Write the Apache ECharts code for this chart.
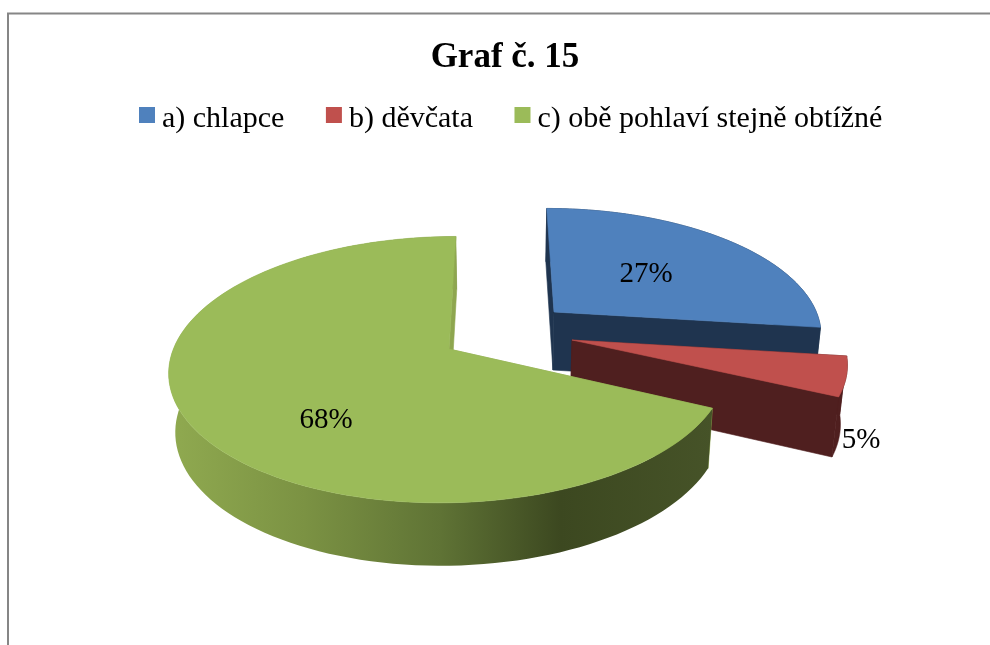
<!DOCTYPE html>
<html>
<head>
<meta charset="utf-8">
<style>html,body{margin:0;padding:0;background:#fff}#c{width:990px;height:645px}</style>
<script src="https://cdn.jsdelivr.net/npm/echarts@6/dist/echarts.min.js"></script>
</head>
<body>
<div id="c"></div>
<script>
const chartTitle = 'Graf č. 15';
const categories = ['a) chlapce', 'b) děvčata', 'c) obě pohlaví stejně obtížné'];
const values = [27, 5, 68];
const colors = ['#4f81bd', '#c0504d', '#9bbb59'];
const darkColors = ['#1f344f', '#4f1f1f', '#8ea64f'];

// 3D pie projection layout
const FONT = '"Liberation Serif","Times New Roman",serif';
const VANISH_X = 500, K = 0.155, RX = 277, RY = 130, DEPTH = 58;
const layout = [
  { ax: 554, ay: 312, r: 0.947, ry: 0.92, label: [646, 274] },
  { ax: 572, ay: 340, r: 0.975, ry: 0.96, label: [861, 440] },
  { ax: 449, ay: 349, r: 0.995, ry: 1, label: [326, 420] }
];
const total = values.reduce((a, b) => a + b, 0);

function project(l, u, v, low) {
  const den = 1 + K * v;
  let x = VANISH_X + (l.ax - VANISH_X + RX * l.r * u) / den;
  let y = l.ay - RY * l.ry * v / den;
  if (low) {
    x += (VANISH_X - x) * 0.02;
    y += DEPTH * (1 - 0.085 * v);
  }
  return [x, y];
}
function arc(l, a0, a1, low) {
  const pts = [], n = 120;
  for (let i = 0; i <= n; i++) {
    const t = a0 + (a1 - a0) * i / n;
    pts.push(project(l, Math.sin(t), Math.cos(t), low));
  }
  return pts;
}
function renderSlice(idx) {
  return function () {
    let before = 0;
    for (let i = 0; i < idx; i++) before += values[i];
    const a0 = before / total * 2 * Math.PI;
    const a1 = (before + values[idx]) / total * 2 * Math.PI;
    const l = layout[idx];
    const apexT = project(l, 0, 0, false), apexB = project(l, 0, 0, true);
    const arcT = arc(l, a0, a1, false), arcB = arc(l, a0, a1, true);
    const gradient = idx === 2;
    const wallFill = gradient ? {
      type: 'linear', x: 0, y: 0, x2: 1, y2: 0,
      colorStops: [
        { offset: 0, color: '#90aa50' },
        { offset: 0.25, color: '#7b9243' },
        { offset: 0.5, color: '#5f7335' },
        { offset: 0.72, color: '#3c4820' },
        { offset: 1, color: '#465328' }
      ]
    } : darkColors[idx];
    const poly = (points, fill, stroke) => ({
      type: 'polygon', shape: { points: points },
      style: { fill: fill, stroke: stroke || null, lineWidth: stroke ? 0.6 : 0 }, silent: true
    });
    const dark = darkColors[idx];
    const children = [
      poly([apexT, arcT[0], arcB[0], apexB], dark, dark),
      poly(arcT.concat(arcB.slice().reverse()), wallFill, gradient ? null : dark),
      poly([apexT, arcT[arcT.length - 1], arcB[arcB.length - 1], apexB], dark, dark),
      poly([apexT].concat(arcT), colors[idx], colors[idx]),
      {
        type: 'text', silent: true, z2: 50,
        style: {
          text: values[idx] + '%', x: l.label[0], y: l.label[1],
          align: 'center', verticalAlign: 'middle', fill: '#000', font: '29px ' + FONT
        }
      }
    ];
    return { type: 'group', children: children };
  };
}

const chart = echarts.init(document.getElementById('c'), null, { renderer: 'canvas' });
chart.setOption({
  animation: false,
  backgroundColor: '#fff',
  title: {
    text: chartTitle, left: 500, top: 35, textAlign: 'center',
    textStyle: { fontFamily: FONT, fontWeight: 'bold', fontSize: 35, color: '#000' }
  },
  legend: {
    data: categories, left: 134, top: 99, itemWidth: 16, itemHeight: 24, itemGap: 41.5,
    icon: 'path://M0 0h16v16h-16zM0 24h0.01', selectedMode: false,
    textStyle: { fontFamily: FONT, fontSize: 30, color: '#000', padding: [0, 0, 0, 2] }
  },
  graphic: [{
    type: 'polyline', silent: true,
    shape: { points: [[8, 645], [8, 13.5], [990, 13.5]] },
    style: { stroke: '#868686', lineWidth: 2, fill: null }
  }],
  series: categories.map((name, i) => ({
    type: 'custom', name: name, coordinateSystem: 'none', silent: true,
    itemStyle: { color: colors[i] },
    z: 2 + i,
    renderItem: renderSlice(i),
    data: [[values[i]]]
  }))
});
</script>
</body>
</html>
